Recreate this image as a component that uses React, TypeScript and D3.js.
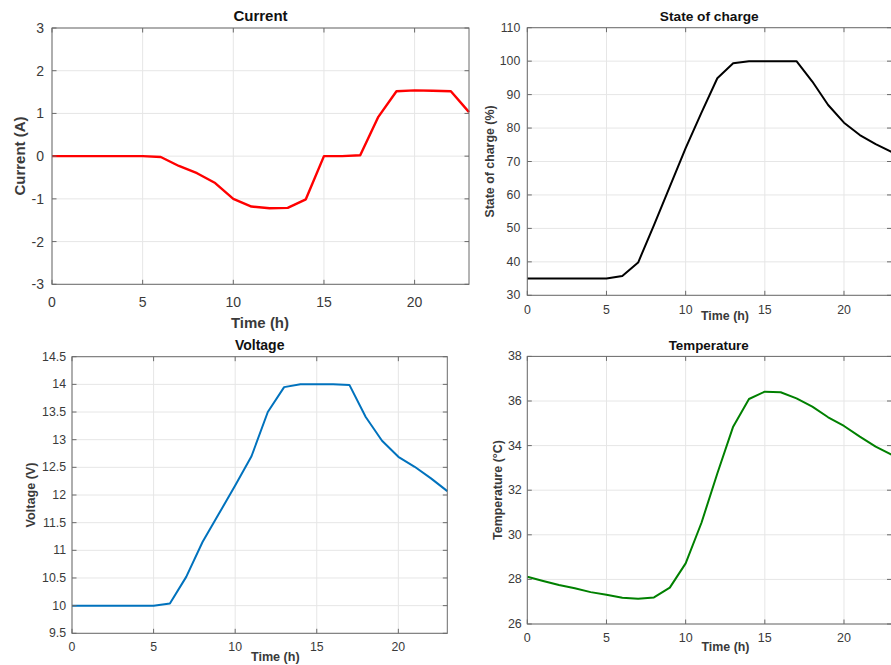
import React from "react";
import * as d3 from "d3";

// Hourly time base (h)
const HOURS = [0, 1, 2, 3, 4, 5, 6, 7, 8, 9, 10, 11, 12, 13, 14, 15, 16, 17, 18, 19, 20, 21, 22, 23];

// Battery current (A)
const CURRENT = [0, 0, 0, 0, 0, 0, -0.02, -0.23, -0.4, -0.63, -1.0, -1.18, -1.22, -1.21, -1.01, 0, 0, 0.02, 0.92, 1.52, 1.54, 1.53, 1.52, 1.03];
// State of charge (%)
const SOC = [35, 35, 35, 35, 35, 35, 35.8, 39.8, 51, 62.5, 74, 84.6, 94.9, 99.4, 100, 100, 100, 100, 93.9, 86.9, 81.6, 77.9, 75.2, 72.9];
// Terminal voltage (V)
const VOLTAGE = [10, 10, 10, 10, 10, 10, 10.04, 10.52, 11.15, 11.66, 12.17, 12.7, 13.5, 13.95, 14, 14, 14, 13.99, 13.41, 12.98, 12.69, 12.51, 12.3, 12.07];
// Battery temperature (°C)
const TEMPERATURE = [28.12, 27.93, 27.75, 27.6, 27.43, 27.31, 27.18, 27.13, 27.19, 27.63, 28.72, 30.54, 32.75, 34.85, 36.09, 36.42, 36.39, 36.12, 35.75, 35.27, 34.88, 34.4, 33.95, 33.6];

// Axis ticks
const X_TICKS = [0, 5, 10, 15, 20];
const CURRENT_TICKS = [-3, -2, -1, 0, 1, 2, 3];
const SOC_TICKS = [30, 40, 50, 60, 70, 80, 90, 100, 110];
const VOLTAGE_TICKS = [9.5, 10, 10.5, 11, 11.5, 12, 12.5, 13, 13.5, 14, 14.5];
const TEMP_TICKS = [26, 28, 30, 32, 34, 36, 38];

const FONT = "'Liberation Sans', Arial, Helvetica, sans-serif";

type PanelProps = {
  box: { left: number; top: number; right: number; bottom: number };
  xDomain: [number, number];
  yDomain: [number, number];
  yTicks: number[];
  values: number[];
  color: string;
  lineWidth: number;
  title: string;
  yLabel: string;
  titlePos: [number, number];
  xLabelPos: [number, number];
  yLabelPos: [number, number];
  titleSize: number;
  labelSize: number;
  tickSize: number;
  yTickGap: number;
  xTickY: number;
};

function Panel(p: PanelProps) {
  const { left, top, right, bottom } = p.box;
  const x = d3.scaleLinear().domain(p.xDomain).range([left, right]);
  const y = d3.scaleLinear().domain(p.yDomain).range([bottom, top]);
  const line = d3
    .line<number>()
    .x((_, i) => x(HOURS[i]))
    .y((v) => y(v));
  const tickLen = 4.5;
  const axisColor = "#6b6b6b";
  const gridColor = "#e6e6e6";
  const textColor = "#3a3a3a";

  return (
    <g>
      {/* grid */}
      {X_TICKS.map((t) => (
        <line key={"gx" + t} x1={x(t)} x2={x(t)} y1={top} y2={bottom} stroke={gridColor} strokeWidth={1} />
      ))}
      {p.yTicks.map((t) => (
        <line key={"gy" + t} x1={left} x2={right} y1={y(t)} y2={y(t)} stroke={gridColor} strokeWidth={1} />
      ))}
      {/* data */}
      <path
        d={line(p.values) ?? ""}
        fill="none"
        stroke={p.color}
        strokeWidth={p.lineWidth}
        strokeLinejoin="round"
      />
      {/* box */}
      <rect x={left} y={top} width={right - left} height={bottom - top} fill="none" stroke={axisColor} strokeWidth={1} />
      {/* inward ticks on all sides */}
      {X_TICKS.map((t) => (
        <g key={"tx" + t}>
          <line x1={x(t)} x2={x(t)} y1={bottom} y2={bottom - tickLen} stroke={axisColor} />
          <line x1={x(t)} x2={x(t)} y1={top} y2={top + tickLen} stroke={axisColor} />
        </g>
      ))}
      {p.yTicks.map((t) => (
        <g key={"ty" + t}>
          <line x1={left} x2={left + tickLen} y1={y(t)} y2={y(t)} stroke={axisColor} />
          <line x1={right} x2={right - tickLen} y1={y(t)} y2={y(t)} stroke={axisColor} />
        </g>
      ))}
      {/* tick labels */}
      {X_TICKS.map((t) => (
        <text
          key={"lx" + t}
          x={x(t)}
          y={p.xTickY}
          textAnchor="middle"
          dominantBaseline="central"
          fontSize={p.tickSize}
          fill={textColor}
          fontFamily={FONT}
        >
          {String(t)}
        </text>
      ))}
      {p.yTicks.map((t) => (
        <text
          key={"ly" + t}
          x={left - p.yTickGap}
          y={y(t)}
          textAnchor="end"
          dominantBaseline="central"
          fontSize={p.tickSize}
          fill={textColor}
          fontFamily={FONT}
        >
          {String(t)}
        </text>
      ))}
      {/* title and axis labels */}
      <text
        x={p.titlePos[0]}
        y={p.titlePos[1]}
        textAnchor="middle"
        dominantBaseline="central"
        fontSize={p.titleSize}
        fontWeight="bold"
        fill="#111"
        fontFamily={FONT}
      >
        {p.title}
      </text>
      <text
        x={p.xLabelPos[0]}
        y={p.xLabelPos[1]}
        textAnchor="middle"
        dominantBaseline="central"
        fontSize={p.labelSize}
        fontWeight="bold"
        fill={textColor}
        fontFamily={FONT}
      >
        Time (h)
      </text>
      <text
        transform={`translate(${p.yLabelPos[0]},${p.yLabelPos[1]}) rotate(-90)`}
        textAnchor="middle"
        dominantBaseline="central"
        fontSize={p.labelSize}
        fontWeight="bold"
        fill={textColor}
        fontFamily={FONT}
      >
        {p.yLabel}
      </text>
    </g>
  );
}

export default function App() {
  return (
    <svg
      width={891}
      height={665}
      style={{ position: "absolute", left: 0, top: 0, background: "#fff" }}
    >
      <rect x={0} y={0} width={891} height={665} fill="#fff" />
      <Panel
        box={{ left: 52, top: 28, right: 469, bottom: 284.3 }}
        xDomain={[0, 23]}
        yDomain={[-3, 3]}
        yTicks={CURRENT_TICKS}
        values={CURRENT}
        color="#ff0000"
        lineWidth={2.4}
        title="Current"
        yLabel="Current (A)"
        titlePos={[260.5, 15.7]}
        xLabelPos={[260, 322]}
        yLabelPos={[19, 156]}
        titleSize={15}
        labelSize={15}
        tickSize={14}
        yTickGap={8}
        xTickY={301.7}
      />
      <Panel
        box={{ left: 527.3, top: 27.7, right: 891.5, bottom: 295.3 }}
        xDomain={[0, 23]}
        yDomain={[30, 110]}
        yTicks={SOC_TICKS}
        values={SOC}
        color="#000000"
        lineWidth={2}
        title="State of charge"
        yLabel="State of charge (%)"
        titlePos={[709.3, 16]}
        xLabelPos={[725, 316]}
        yLabelPos={[490, 161.5]}
        titleSize={13.7}
        labelSize={12.4}
        tickSize={12.3}
        yTickGap={7}
        xTickY={310}
      />
      <Panel
        box={{ left: 72, top: 356.7, right: 447.3, bottom: 633.3 }}
        xDomain={[0, 23]}
        yDomain={[9.5, 14.5]}
        yTicks={VOLTAGE_TICKS}
        values={VOLTAGE}
        color="#0072bd"
        lineWidth={2}
        title="Voltage"
        yLabel="Voltage (V)"
        titlePos={[259.7, 345]}
        xLabelPos={[275.3, 656.7]}
        yLabelPos={[31, 495]}
        titleSize={14}
        labelSize={12.6}
        tickSize={12.3}
        yTickGap={6}
        xTickY={646.7}
      />
      <Panel
        box={{ left: 527.3, top: 356.4, right: 891.5, bottom: 624 }}
        xDomain={[0, 23]}
        yDomain={[26, 38]}
        yTicks={TEMP_TICKS}
        values={TEMPERATURE}
        color="#008000"
        lineWidth={2}
        title="Temperature"
        yLabel="Temperature (°C)"
        titlePos={[708.7, 345]}
        xLabelPos={[725.5, 647.3]}
        yLabelPos={[497.5, 490]}
        titleSize={13.4}
        labelSize={12.4}
        tickSize={12.5}
        yTickGap={5.5}
        xTickY={638.3}
      />
    </svg>
  );
}
